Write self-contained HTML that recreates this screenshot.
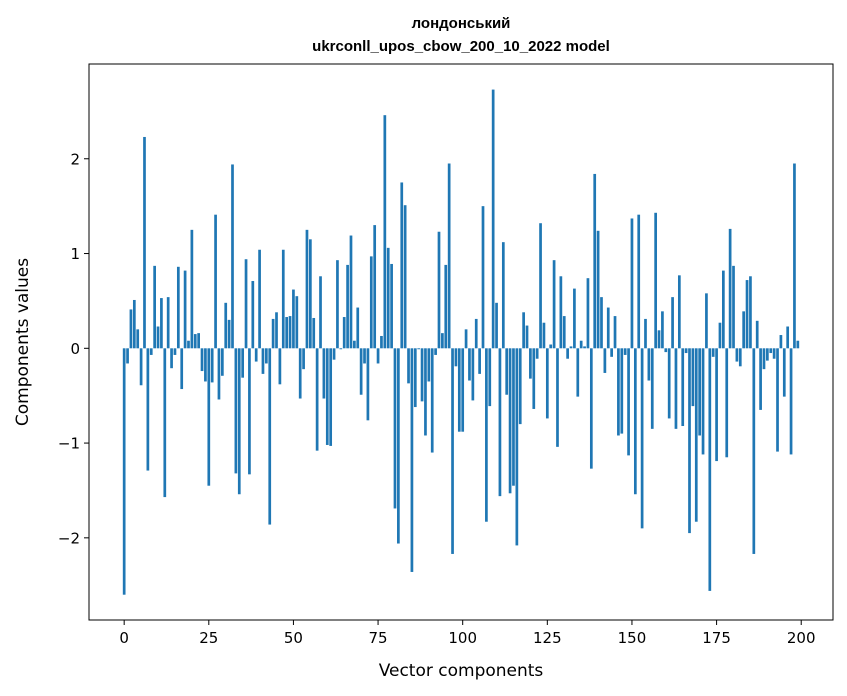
<!DOCTYPE html>
<html><head><meta charset="utf-8"><style>
html,body{margin:0;padding:0;background:#fff;}
svg{display:block;font-family:"DejaVu Sans","Liberation Sans",sans-serif;}
</style></head><body>
<svg id="chart" width="847" height="696" viewBox="0 0 847 696" xmlns="http://www.w3.org/2000/svg">
<text x="461" y="28" text-anchor="middle" font-size="15" font-weight="bold" font-family="Liberation Sans, sans-serif">лондонський</text>
<text x="461" y="51" text-anchor="middle" font-size="15" font-weight="bold" font-family="Liberation Sans, sans-serif">ukrconll_upos_cbow_200_10_2022 model</text>
<g id="bars"></g>
<g id="xticks"></g>
<g id="yticks"></g>
<rect x="89" y="64" width="744" height="556" fill="none" stroke="#000" stroke-width="1"/>
<text x="461" y="676" text-anchor="middle" font-size="17">Vector components</text>
<text transform="translate(28,342) rotate(-90)" text-anchor="middle" font-size="17">Components values</text>
</svg>
<script>
const values = [
-2.6,-0.16,0.41,0.51,0.20,-0.39,2.23,-1.29,-0.07,0.87,
0.23,0.53,-1.57,0.54,-0.21,-0.07,0.86,-0.43,0.82,0.08,
1.25,0.15,0.16,-0.24,-0.35,-1.45,-0.36,1.41,-0.54,-0.29,
0.48,0.30,1.94,-1.32,-1.54,-0.31,0.94,-1.33,0.71,-0.14,
1.04,-0.27,-0.16,-1.86,0.31,0.38,-0.38,1.04,0.33,0.34,
0.62,0.55,-0.53,-0.22,1.25,1.15,0.32,-1.08,0.76,-0.53,
-1.02,-1.03,-0.12,0.93,-0.01,0.33,0.88,1.19,0.08,0.43,
-0.49,-0.16,-0.76,0.97,1.30,-0.16,0.13,2.46,1.06,0.89,
-1.69,-2.06,1.75,1.51,-0.37,-2.36,-0.62,-0.01,-0.56,-0.92,
-0.35,-1.10,-0.07,1.23,0.16,0.88,1.95,-2.17,-0.19,-0.88,
-0.88,0.20,-0.34,-0.55,0.31,-0.27,1.50,-1.83,-0.61,2.73,
0.48,-1.56,1.12,-0.49,-1.53,-1.45,-2.08,-0.80,0.38,0.24,
-0.32,-0.64,-0.11,1.32,0.27,-0.74,0.04,0.93,-1.04,0.76,
0.34,-0.11,0.02,0.63,-0.51,0.08,0.02,0.74,-1.27,1.84,
1.24,0.54,-0.26,0.43,-0.09,0.34,-0.92,-0.90,-0.07,-1.13,
1.37,-1.54,1.41,-1.90,0.31,-0.34,-0.85,1.43,0.19,0.39,
-0.04,-0.74,0.54,-0.85,0.77,-0.82,-0.05,-1.95,-0.61,-1.83,
-0.92,-1.12,0.58,-2.56,-0.09,-1.19,0.27,0.82,-1.15,1.26,
0.87,-0.14,-0.19,0.39,0.72,0.76,-2.17,0.29,-0.65,-0.22,
-0.13,-0.05,-0.11,-1.09,0.14,-0.51,0.23,-1.12,1.95,0.08
];
const xTickValues = [0,25,50,75,100,125,150,175,200];
const yTickValues = [-2,-1,0,1,2];

const NS = "http://www.w3.org/2000/svg";
const PL = 89, PR = 833, PT = 64, PB = 620;
const xMin = -10.39, xMax = 209.39;
const yMin = -2.867, yMax = 3.0;
function xScale(v){ return PL + (v - xMin) / (xMax - xMin) * (PR - PL); }
function yScale(v){ return PB - (v - yMin) / (yMax - yMin) * (PB - PT); }

const bars = document.getElementById('bars');
values.forEach((v, i) => {
  const r = document.createElementNS(NS, 'rect');
  const x0 = xScale(i - 0.4), x1 = xScale(i + 0.4);
  const y0 = yScale(Math.max(v, 0)), y1 = yScale(Math.min(v, 0));
  r.setAttribute('x', x0);
  r.setAttribute('y', y0);
  r.setAttribute('width', x1 - x0);
  r.setAttribute('height', Math.max(y1 - y0, 0.3));
  r.setAttribute('fill', '#1f77b4');
  
  
  bars.appendChild(r);
});

const xg = document.getElementById('xticks');
xTickValues.forEach(t => {
  const x = xScale(t);
  const l = document.createElementNS(NS, 'line');
  l.setAttribute('x1', x); l.setAttribute('x2', x);
  l.setAttribute('y1', PB); l.setAttribute('y2', PB + 5);
  l.setAttribute('stroke', '#000');
  
  
  xg.appendChild(l);
  const tx = document.createElementNS(NS, 'text');
  tx.setAttribute('x', x); tx.setAttribute('y', PB + 23);
  tx.setAttribute('text-anchor', 'middle');
  tx.setAttribute('font-size', '15');
  
  
  tx.textContent = t;
  xg.appendChild(tx);
});

const yg = document.getElementById('yticks');
yTickValues.forEach(t => {
  const y = yScale(t);
  const l = document.createElementNS(NS, 'line');
  l.setAttribute('x1', PL - 5); l.setAttribute('x2', PL);
  l.setAttribute('y1', y); l.setAttribute('y2', y);
  l.setAttribute('stroke', '#000');
  
  
  yg.appendChild(l);
  const tx = document.createElementNS(NS, 'text');
  tx.setAttribute('x', PL - 9); tx.setAttribute('y', y + 5.5);
  tx.setAttribute('text-anchor', 'end');
  tx.setAttribute('font-size', '15');
  
  
  tx.textContent = t < 0 ? '\u2212' + Math.abs(t) : String(t);
  yg.appendChild(tx);
});
</script>
</body></html>
